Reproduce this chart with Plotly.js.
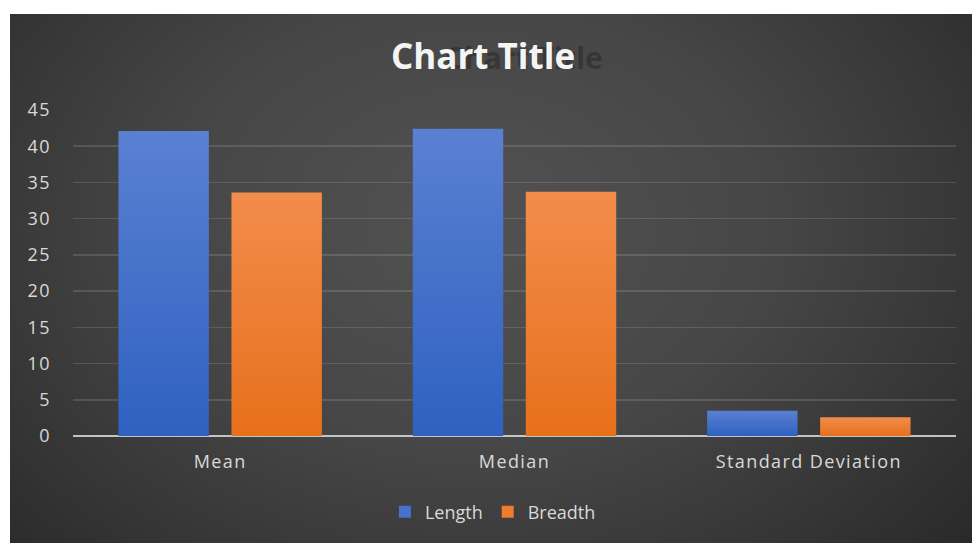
<!DOCTYPE html>
<html>
<head>
<meta charset="utf-8">
<script src="https://cdn.plot.ly/plotly-3.0.1.min.js"></script>
<style>
  html, body { margin: 0; padding: 0; background: #ffffff; width: 972px; height: 543px; overflow: hidden; }
  #chart {
    position: absolute; left: 10px; top: 14px; width: 962px; height: 529px;
    background: radial-gradient(ellipse 70% 95% at 48% 40%, #525252 0%, #464646 45%, #363636 75%, #282828 100%);
  }
  #chart .xtick text, #chart .ytick text { letter-spacing: 1.4px; }
</style>
</head>
<body>
<div id="chart"></div>
<script>
const categories = ["Mean", "Median", "Standard Deviation"];
const lengthValues = [42.1, 42.4, 3.5];
const breadthValues = [33.6, 33.7, 2.6];
const seriesNames = ["Length", "Breadth"];
const yTicks = [0, 5, 10, 15, 20, 25, 30, 35, 40, 45];
const titleText = "Chart Title";

const baseFont = "Open Sans, Noto Sans, sans-serif";
const tickFont = { family: baseFont, size: 18, color: "#d9d9d9" };

const traces = [
  {
    type: "bar", name: seriesNames[0], x: categories, y: lengthValues,
    marker: { color: "#4672cc", line: { width: 0 } }, hoverinfo: "x+y+name"
  },
  {
    type: "bar", name: seriesNames[1], x: categories, y: breadthValues,
    marker: { color: "#ee7b2e", line: { width: 0 } }, hoverinfo: "x+y+name"
  }
];

const layout = {
  width: 962, height: 529,
  paper_bgcolor: "rgba(0,0,0,0)",
  plot_bgcolor: "rgba(0,0,0,0)",
  margin: { l: 63, r: 16, t: 96, b: 107 },
  barmode: "group",
  bargap: 0.232,
  bargroupgap: 0.2,
  title: {
    text: titleText,
    font: { family: baseFont, size: 35, color: "#f4f4f4", weight: 700 },
    xref: "container", x: 0.4917, xanchor: "center",
    yref: "container", y: 0.92, yanchor: "middle"
  },
  annotations: [
    {
      text: titleText, xref: "paper", yref: "paper", showarrow: false,
      x: 0.511, y: 1.16, xanchor: "center", yanchor: "middle",
      font: { family: baseFont, size: 30, color: "rgba(25,25,25,0.4)", weight: 700 }
    }
  ],
  xaxis: {
    type: "category",
    tickfont: tickFont,
    ticks: "",
    ticklabelstandoff: 13,
    showgrid: false,
    showline: false,
    zeroline: false
  },
  yaxis: {
    range: [0, 45],
    tickvals: yTicks,
    ticktext: yTicks.map(String),
    tickfont: tickFont,
    ticks: "",
    ticklabelstandoff: 21,
    showgrid: true,
    gridcolor: "rgba(255,255,255,0.13)",
    gridwidth: 1.5,
    zeroline: true,
    zerolinecolor: "rgba(220,220,220,0.85)",
    zerolinewidth: 2,
    showline: false
  },
  showlegend: true,
  legend: {
    orientation: "h",
    xref: "container", yref: "container",
    x: 0.502, xanchor: "center",
    y: 0.0586, yanchor: "middle",
    font: { family: baseFont, size: 18, color: "#d9d9d9" },
    bgcolor: "rgba(0,0,0,0)",
    itemclick: false, itemdoubleclick: false
  }
};

Plotly.newPlot("chart", traces, layout, { displayModeBar: false, staticPlot: true }).then(function (gd) {
  // keep the white title above its faint shadow copy
  const info = gd.querySelector(".infolayer");
  const t = info && info.querySelector(".g-gtitle");
  if (t) info.appendChild(t);

  // soft vertical shading on the bars, as in the reference
  const svg = gd.querySelector(".main-svg");
  const ns = "http://www.w3.org/2000/svg";
  let defs = svg.querySelector("defs");
  if (!defs) { defs = document.createElementNS(ns, "defs"); svg.insertBefore(defs, svg.firstChild); }
  const grads = [
    ["gradLen", "#5a80d2", "#2f61c1"],
    ["gradBre", "#f28c4c", "#e7701b"]
  ];
  grads.forEach(function (g) {
    const lg = document.createElementNS(ns, "linearGradient");
    lg.setAttribute("id", g[0]);
    lg.setAttribute("x1", "0"); lg.setAttribute("y1", "0");
    lg.setAttribute("x2", "0"); lg.setAttribute("y2", "1");
    [[0, g[1]], [1, g[2]]].forEach(function (s) {
      const st = document.createElementNS(ns, "stop");
      st.setAttribute("offset", String(s[0]));
      st.setAttribute("stop-color", s[1]);
      lg.appendChild(st);
    });
    defs.appendChild(lg);
  });
  const traceGroups = gd.querySelectorAll(".barlayer .trace");
  traceGroups.forEach(function (tg, i) {
    tg.querySelectorAll(".point path").forEach(function (p) {
      p.style.fill = "url(#" + grads[i][0] + ")";
    });
  });
});
</script>
</body>
</html>
